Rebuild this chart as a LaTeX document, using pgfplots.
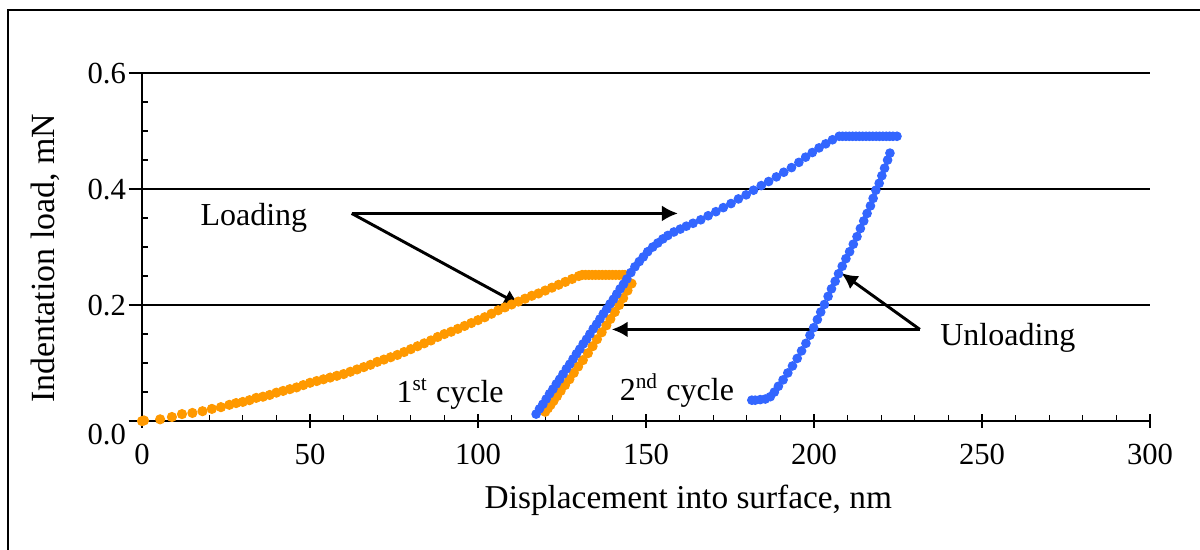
\documentclass[border=0pt]{standalone}
\usepackage{pgfplots}
\pgfplotsset{compat=1.18}
\usetikzlibrary{arrows.meta}
\usepackage{fontspec}
\setmainfont{Liberation Serif}
\definecolor{corange}{RGB}{255,153,0}
\definecolor{cblue}{RGB}{51,102,255}

\begin{document}
\begin{tikzpicture}
\useasboundingbox (-53.25pt,-48pt) rectangle (396.75pt,157.9pt);
% outer frame (cut at right and bottom like the original)
\draw[line width=0.8pt] (-50.25pt,-50pt) -- (-50.25pt,154.1pt) -- (400pt,154.1pt);
\begin{axis}[
    at={(0pt,0pt)}, anchor=south west,
    scale only axis,
    width=378pt, height=130.5pt,
    xmin=0, xmax=300, ymin=0, ymax=0.6,
    clip=false,
    axis lines=left,
    axis line style={-, line width=0.6pt},
    xtick={0,50,100,150,200,250,300},
    ytick={0.2,0.4,0.6},
    extra y ticks={0},
    extra y tick style={yticklabel style={yshift=-5pt}},
    minor xtick={10,20,30,40,60,70,80,90,110,120,130,140,160,170,180,190,210,220,230,240,260,270,280,290},
    minor ytick={0.05,0.1,0.15,0.25,0.3,0.35,0.45,0.5,0.55},
    xtick align=center, ytick align=outside,
    major tick length=5pt, minor tick length=2.25pt,
    minor x tick style={yshift=1.125pt},
    minor y tick style={xshift=2.25pt},
    tick style={black, line width=0.5pt},
    ymajorgrids,
    major grid style={black, line width=0.45pt},
    /pgf/number format/assume math mode=true,
    yticklabel style={xshift=2.5pt, /pgf/number format/fixed,
        /pgf/number format/fixed zerofill, /pgf/number format/precision=1},
    xticklabel style={yshift=-2.5pt},
    ticklabel style={font=\fontsize{11.5}{13}\selectfont},
    xlabel={Displacement into surface, nm},
    ylabel={Indentation load, mN},
    every axis x label/.style={at={(axis description cs:0.542,-0.227)}, anchor=center,
        font=\fontsize{12.5}{14}\selectfont},
    every axis y label/.style={at={(axis description cs:-0.0963,0.468)}, anchor=center, rotate=90,
        font=\fontsize{12.7}{15}\selectfont},
]
% 1st cycle
\addplot[only marks, mark=*, mark size=1.7pt, color=corange] coordinates {
(0,0.000) (0.6,0.001) (5.4,0.003) (8.9,0.007) (11.9,0.012) (15,0.014) (18,0.017)
(20.8,0.021) (23.5,0.024) (26,0.028) (28,0.031) (30,0.033) (32,0.036) (34,0.040)
(36,0.042) (38,0.045) (40,0.049) (42,0.052) (44,0.055) (46,0.058) (48,0.062)
(50,0.066) (52,0.069) (54,0.072) (56,0.075) (58,0.078) (60,0.081) (62,0.085)
(64,0.089) (66,0.093) (68,0.097) (70,0.102) (72,0.106) (74,0.110) (76,0.114)
(78,0.119) (80,0.124) (82,0.129) (84,0.134) (86,0.139) (88,0.145) (90,0.150)
(92,0.154) (94,0.159) (96,0.164) (98,0.169) (100,0.174) (102,0.179) (104,0.185)
(106,0.191) (108,0.196) (110,0.201) (112,0.206) (114,0.211) (116,0.216) (118,0.220)
(120,0.225) (122,0.230) (124,0.235) (126,0.240) (128,0.245) (130,0.250) (131,0.252)
(132,0.252) (133,0.252) (134,0.252) (135,0.252) (136,0.252) (137,0.252) (138,0.252)
(139,0.252) (140,0.252) (141,0.252) (142,0.252) (143,0.252) (143.7,0.252)
(145.7,0.237) (144.5,0.225) (143.2,0.212) (142.0,0.200) (140.7,0.188) (139.4,0.176)
(138.2,0.165) (136.8,0.153) (135.4,0.141) (134.1,0.129) (132.7,0.117) (131.2,0.105)
(129.8,0.094) (128.5,0.083) (127.2,0.072) (125.9,0.062) (124.6,0.052) (123.5,0.043)
(122.5,0.035) (121.6,0.028) (120.8,0.022) (120.0,0.016)
};
% 2nd cycle
\addplot[only marks, mark=*, mark size=1.6pt, color=cblue] coordinates {
(117.3,0.012) (118.3,0.021) (119.3,0.029) (120.3,0.038) (121.3,0.047) (122.3,0.055)
(123.3,0.064) (124.3,0.072) (125.3,0.081) (126.3,0.090) (127.3,0.098) (128.3,0.107)
(129.3,0.116) (130.3,0.124) (131.3,0.133) (132.3,0.141) (133.3,0.150) (134.3,0.159)
(135.3,0.167) (136.3,0.176) (137.3,0.185) (138.3,0.193) (139.3,0.202) (140.3,0.210)
(141.3,0.219) (142.3,0.228) (143.3,0.236) (144.3,0.245)
(145.5,0.256) (146.7,0.266) (148,0.275) (149.2,0.283) (150.5,0.292) (152,0.300)
(153.5,0.307) (155,0.314) (156.5,0.320) (158.3,0.326) (160.2,0.331) (162,0.336)
(164,0.341) (166.3,0.347) (168.5,0.354) (170.8,0.361) (173,0.368) (175.3,0.375)
(177.5,0.383) (179.8,0.390) (182,0.398) (184.3,0.406) (186.5,0.413) (188.8,0.421)
(191,0.429) (193.3,0.437) (195.5,0.446) (197.5,0.455) (199.5,0.463) (201.5,0.471)
(203.5,0.478) (205.5,0.485) (207.5,0.491)
(208.5,0.491) (209.5,0.491) (210.5,0.491) (211.5,0.491) (212.5,0.491) (213.5,0.491)
(214.5,0.491) (215.5,0.491) (216.5,0.491) (217.5,0.491) (218.5,0.491) (219.5,0.491)
(220.5,0.491) (221.5,0.491) (222.5,0.491) (223.5,0.491) (224.7,0.491)
(222.6,0.462) (221.9,0.450) (221.0,0.436) (220.2,0.423) (219.4,0.410) (218.4,0.398)
(217.6,0.384) (216.8,0.371) (215.8,0.358) (214.8,0.345) (213.8,0.332) (212.8,0.318)
(211.7,0.305) (210.6,0.292) (209.5,0.280) (208.4,0.267) (207.3,0.254) (206.3,0.241)
(205.2,0.228) (204.2,0.215) (203.1,0.201) (202.0,0.188) (201.0,0.175) (199.9,0.161)
(198.8,0.148) (197.6,0.134) (196.3,0.121) (195.0,0.108) (193.6,0.095) (192.2,0.083)
(190.8,0.071) (189.4,0.060) (188.2,0.050) (187.0,0.042) (185.5,0.038) (184,0.037)
(182.5,0.036) (181.5,0.036)
};
% annotations
\tikzset{ann/.style={black, line width=1.1pt, -{Latex[length=6pt,width=6pt]}}}
\node[font=\fontsize{12}{14}\selectfont] at (axis cs:33.3,0.35) {Loading};
\draw[ann] (axis cs:62.4,0.358) -- (axis cs:159.5,0.358);
\draw[ann] (axis cs:62.4,0.358) -- (axis cs:112.5,0.2);
\node[font=\fontsize{12}{14}\selectfont] at (axis cs:257.7,0.143) {Unloading};
\draw[ann] (axis cs:231.5,0.158) -- (axis cs:139.8,0.158);
\draw[ann] (axis cs:231.5,0.158) -- (axis cs:208.2,0.255);
\node[font=\fontsize{12}{14}\selectfont] at (axis cs:91.7,0.047) {1\textsuperscript{st} cycle};
\node[font=\fontsize{12}{14}\selectfont] at (axis cs:159.2,0.053) {2\textsuperscript{nd} cycle};
\end{axis}
\end{tikzpicture}
\end{document}
